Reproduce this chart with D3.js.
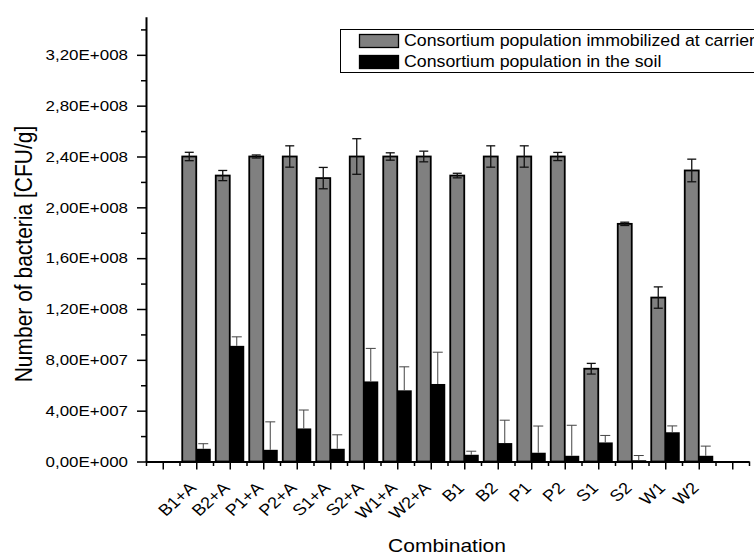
<!DOCTYPE html>
<html>
<head>
<meta charset="utf-8">
<script src="https://cdn.jsdelivr.net/npm/d3@7"></script>
<style>
  body { margin: 0; background: #fff; }
  text { font-family: "Liberation Sans", Arial, sans-serif; fill: #000; }
</style>
</head>
<body>
<div id="chart"></div>
<script>
// combinations on the x axis
var categories = ['B1+A', 'B2+A', 'P1+A', 'P2+A', 'S1+A', 'S2+A', 'W1+A', 'W2+A',
                  'B1', 'B2', 'P1', 'P2', 'S1', 'S2', 'W1', 'W2'];
// consortium immobilized at carrier (grey)
var carrier    = [2.40e8, 2.25e8, 2.40e8, 2.40e8, 2.23e8, 2.40e8, 2.40e8, 2.40e8,
                  2.25e8, 2.40e8, 2.40e8, 2.40e8, 7.3e7, 1.87e8, 1.29e8, 2.29e8];
var carrierErr = [3.3e6, 4.0e6, 1.2e6, 8.4e6, 8.4e6, 1.4e7, 2.9e6, 4.2e6,
                  1.8e6, 8.4e6, 8.4e6, 3.2e6, 4.2e6, 1.3e6, 8.4e6, 8.9e6];
// consortium in the soil (black)
var soil       = [1.0e7, 9.1e7, 9.2e6, 2.6e7, 1.0e7, 6.3e7, 5.6e7, 6.1e7,
                  5.3e6, 1.45e7, 6.9e6, 4.5e6, 1.5e7, 1.0e6, 2.3e7, 4.5e6];
var soilErr    = [4.0e6, 7.1e6, 2.2e7, 1.45e7, 1.1e7, 2.6e7, 1.85e7, 2.5e7,
                  2.8e6, 1.8e7, 2.1e7, 2.4e7, 5.5e6, 3.7e6, 5.0e6, 7.6e6];
var yTicks = [0, 4e7, 8e7, 1.2e8, 1.6e8, 2.0e8, 2.4e8, 2.8e8, 3.2e8];
var seriesNames = ['Consortium population immobilized at carrier', 'Consortium population in the soil'];

var W = 754, H = 556;
var SX = 1.13; // the original export is a little stretched sideways

var svg = d3.select('#chart').append('svg')
   .attr('width', W).attr('height', H);

var x = d3.scaleLinear().domain([-0.5, 17.5]).range([146, 749]);
var y = d3.scaleLinear().domain([0, 3.5e8]).range([461.5, 16.7]);

function sci(v){
   if (v == 0) return '0,00E+000';
   var e = Math.floor(Math.log10(v));
   var m = v / Math.pow(10, e);
   return m.toFixed(2).replace('.', ',') + 'E+' + String(e).padStart(3, '0');
}

var barW = 14;

// grey bars
svg.append('g').selectAll('rect')
   .data(carrier)
   .enter().append('rect')
   .attr('x', function(d, i){ return x(i + 1) - barW; })
   .attr('y', function(d){ return y(d); })
   .attr('width', barW)
   .attr('height', function(d){ return y(0) - y(d); })
   .attr('fill', '#808080')
   .attr('stroke', '#000')
   .attr('stroke-width', 1.8);

// black bars
svg.append('g').selectAll('rect')
   .data(soil)
   .enter().append('rect')
   .attr('x', function(d, i){ return x(i + 1); })
   .attr('y', function(d){ return y(d); })
   .attr('width', barW + 0.5)
   .attr('height', function(d){ return y(0) - y(d); })
   .attr('fill', '#000');

// error bars grey series (both ways)
var eg = svg.append('g').attr('stroke', '#111').attr('stroke-width', 1.3);
carrier.forEach(function(d, i){
   var cx = x(i + 1) - barW / 2;
   var t = y(d + carrierErr[i]), b = y(d - carrierErr[i]);
   eg.append('line').attr('x1', cx).attr('x2', cx).attr('y1', t).attr('y2', b);
   eg.append('line').attr('x1', cx - 4.5).attr('x2', cx + 4.5).attr('y1', t).attr('y2', t);
   eg.append('line').attr('x1', cx - 4.5).attr('x2', cx + 4.5).attr('y1', b).attr('y2', b);
});

// error bars black series (only the part above the bar shows)
var eb = svg.append('g').attr('stroke', '#444').attr('stroke-width', 1);
soil.forEach(function(d, i){
   var cx = x(i + 1) + barW / 2;
   var t = y(d + soilErr[i]);
   eb.append('line').attr('x1', cx).attr('x2', cx).attr('y1', t).attr('y2', y(d));
   eb.append('line').attr('x1', cx - 5).attr('x2', cx + 5).attr('y1', t).attr('y2', t);
});

// y axis
var minorY = d3.range(2e7, 3.5e8, 4e7);
svg.append('g')
   .attr('transform', 'translate(' + x(-0.5) + ',0)')
   .call(d3.axisLeft(y).tickValues(minorY).tickSize(5).tickSizeOuter(0).tickFormat(''))
   .call(function(g){ g.select('.domain').attr('stroke-width', 2); g.selectAll('.tick line').attr('stroke-width', 1.5); });
svg.append('g')
   .attr('transform', 'translate(' + x(-0.5) + ',0)')
   .call(d3.axisLeft(y).tickValues(yTicks).tickSize(9).tickSizeOuter(0).tickFormat(''))
   .call(function(g){ g.select('.domain').remove(); g.selectAll('.tick line').attr('stroke-width', 1.5); });

svg.append('g').selectAll('text')
   .data(yTicks)
   .enter().append('text')
   .attr('transform', function(d){ return 'translate(128,' + y(d) + ') scale(' + SX + ',1)'; })
   .attr('dy', '0.35em')
   .attr('text-anchor', 'end')
   .style('font-size', '15px')
   .text(sci);

// x axis
svg.append('g')
   .attr('transform', 'translate(0,' + y(0) + ')')
   .call(d3.axisBottom(x).tickValues(d3.range(-0.5, 18, 1)).tickSize(4.5).tickSizeOuter(0).tickFormat(''))
   .call(function(g){ g.select('.domain').attr('stroke-width', 2); g.selectAll('.tick line').attr('stroke-width', 1.5); });
svg.append('g')
   .attr('transform', 'translate(0,' + y(0) + ')')
   .call(d3.axisBottom(x).tickValues(d3.range(0, 18)).tickSize(8).tickSizeOuter(0).tickFormat(''))
   .call(function(g){ g.select('.domain').remove(); g.selectAll('.tick line').attr('stroke-width', 1.5); });

svg.append('g').selectAll('text')
   .data(categories)
   .enter().append('text')
   .attr('transform', function(d, i){ return 'translate(' + (x(i + 1) + 1) + ',489) scale(' + SX + ',1) rotate(-45)'; })
   .attr('text-anchor', 'end')
   .style('font-size', '16px')
   .text(function(d){ return d; });

// axis titles
svg.append('text')
   .attr('transform', 'translate(447,552) scale(' + SX + ',1)')
   .attr('text-anchor', 'middle')
   .style('font-size', '18.6px')
   .text('Combination');

svg.append('text')
   .attr('transform', 'translate(32,254) scale(' + SX + ',1) rotate(-90)')
   .attr('text-anchor', 'middle')
   .style('font-size', '21px')
   .text('Number of bacteria [CFU/g]');

// legend
var legend = svg.append('g');
legend.append('rect')
   .attr('x', 340.5).attr('y', 29.5)
   .attr('width', 430).attr('height', 43)
   .attr('fill', '#fff').attr('stroke', '#000').attr('stroke-width', 1);
var fills = ['#808080', '#000'];
seriesNames.forEach(function(name, i){
   legend.append('rect')
      .attr('x', 359.5).attr('y', 34.5 + i * 21)
      .attr('width', 39).attr('height', 13)
      .attr('fill', fills[i]).attr('stroke', '#000').attr('stroke-width', 1.3);
   legend.append('text')
      .attr('transform', 'translate(404,' + (45.5 + i * 21) + ') scale(' + SX + ',1)')
      .style('font-size', '15.7px')
      .text(name);
});
</script>
</body>
</html>
